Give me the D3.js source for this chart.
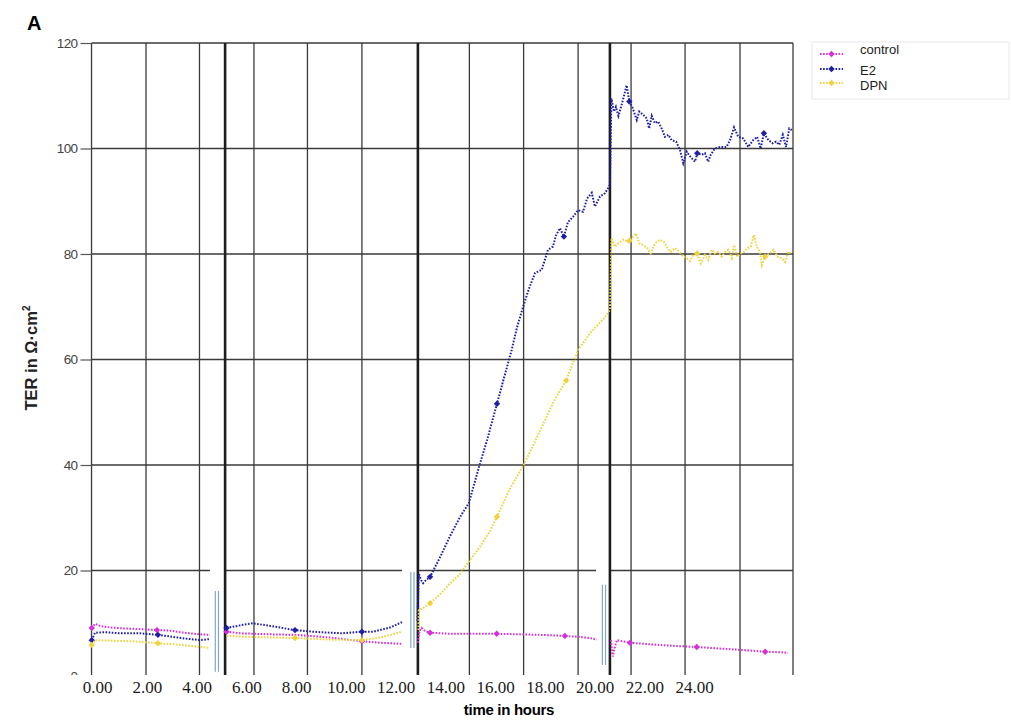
<!DOCTYPE html>
<html>
<head>
<meta charset="utf-8">
<script src="https://cdn.jsdelivr.net/npm/d3@7"></script>
<style>
  body { margin: 0; background: #fff; }
  svg { display: block; font-family: "Liberation Sans", Arial, sans-serif; }
</style>
</head>
<body>
<div id="chart"></div>
<script>
// ---- data (hours, TER in Ω·cm²) ----
const seriesNames = ["control", "E2", "DPN"];
const seriesColors = ["#d631d6", "#1e1ea8", "#f0d23c"];

const xTicks = [0, 2, 4, 6, 8, 10, 12, 14, 16, 18, 20, 22, 24];
const yTicks = [0, 20, 40, 60, 80, 100, 120];

// the figure is stitched from four recordings
const panelStart = [-0.22, 5.11, 12.90, 20.62];
const panelEnd = [4.54, 12.26, 20.06, 27.98];
const gridHours = [-0.22, 1.97, 4.12, 6.31, 8.46, 10.65, 14.97, 17.15, 19.34, 21.47, 23.64, 25.85, 27.98];
const seamHours = [5.15, 12.90, 20.62];
const breakHours = [4.82, 12.68, 20.38];
const breakTop = [16.1, 19.7, 17.3];
const breakBottom = [0.8, 5.3, 2.1];

const control = [
  [-0.21, 9.1], [-0.08, 9.9], [0.12, 9.5], [0.52, 9.2], [1.13, 9.0], [1.73, 8.9], [2.41, 8.7], [2.93, 8.6],
  [3.34, 8.3], [3.74, 8.1], [4.14, 7.9], [4.54, 7.8], null,
  [5.21, 8.4], [5.75, 8.1], [6.95, 7.9], [7.96, 7.8], [9.37, 7.3], [9.89, 7.0], [10.65, 6.6], [11.38, 6.3],
  [12.26, 6.1], null,
  [12.90, 6.3], [12.96, 8.5], [13.05, 9.1], [13.19, 8.5], [13.39, 8.2], [14.19, 8.0], [14.99, 8.0], [16.07, 8.0],
  [17.0, 7.9], [17.81, 7.8], [18.81, 7.6], [19.42, 7.4], [19.82, 7.2], [20.09, 6.9], null,
  [20.66, 6.8], [20.74, 3.7], [20.82, 5.5], [20.90, 6.8], [21.11, 6.6], [21.43, 6.3], [22.23, 6.0], [23.24, 5.7],
  [24.11, 5.5], [25.05, 5.2], [26.05, 4.9], [26.86, 4.6], [27.46, 4.5], [27.78, 4.4]
];
const controlMarkers = [[-0.21, 9.1], [2.41, 8.7], [5.21, 8.4], [10.65, 6.6], [13.39, 8.2], [16.07, 8.0],
  [18.81, 7.6], [21.43, 6.3], [24.11, 5.5], [26.86, 4.6]];

const e2 = [
  [-0.21, 6.8], [-0.08, 8.2], [0.32, 8.3], [0.92, 8.1], [1.73, 8.1], [2.45, 7.8], [2.93, 7.5], [3.54, 7.1],
  [4.14, 6.8], [4.54, 7.0], null,
  [5.21, 9.1], [5.75, 9.6], [6.27, 10.0], [6.95, 9.5], [7.96, 8.7], [8.68, 8.4], [9.37, 8.2], [9.89, 8.1],
  [10.65, 8.4], [11.10, 8.4], [11.78, 9.2], [12.26, 10.2], null,
  [12.88, 10.5], [12.94, 19.3], [13.05, 18.0], [13.11, 17.6], [13.23, 18.2], [13.39, 18.8], [13.79, 22.5],
  [14.19, 26.5], [14.59, 30.1], [14.95, 32.8], [15.38, 40.0], [15.68, 44.7], [16.08, 51.6], [16.36, 56.5],
  [16.67, 61.8], [16.88, 66.0], [17.13, 70.0], [17.37, 73.5], [17.61, 76.4], [17.88, 77.0], [18.13, 80.8],
  [18.33, 81.4], [18.45, 83.5], [18.61, 84.9], [18.77, 83.3], [18.93, 86.0], [19.14, 87.1], [19.34, 88.3],
  [19.54, 88.0], [19.70, 90.5], [19.89, 91.6], [20.02, 89.0], [20.22, 90.9], [20.42, 91.5], [20.62, 93.1],
  [20.68, 109.5], [20.78, 107.0], [20.86, 107.9], [20.96, 106.2], [21.05, 107.6], [21.16, 109.5], [21.29, 112.0],
  [21.40, 108.9], [21.54, 107.6], [21.70, 105.4], [21.80, 107.0], [21.96, 106.4], [22.10, 105.7], [22.20, 103.8],
  [22.30, 106.2], [22.43, 104.8], [22.56, 105.1], [22.70, 103.8], [22.83, 102.2], [22.97, 102.6], [23.10, 101.6],
  [23.28, 101.3], [23.44, 99.7], [23.57, 97.2], [23.71, 99.4], [23.84, 98.5], [24.04, 97.5], [24.13, 99.1],
  [24.31, 98.8], [24.44, 99.1], [24.57, 97.5], [24.67, 98.8], [24.84, 100.0], [25.05, 100.3], [25.31, 100.3],
  [25.45, 101.6], [25.61, 104.0], [25.78, 102.2], [25.98, 101.9], [26.18, 100.3], [26.38, 101.6], [26.54, 102.2],
  [26.68, 100.0], [26.81, 102.9], [26.99, 101.6], [27.16, 101.0], [27.30, 101.3], [27.43, 100.7], [27.57, 102.6],
  [27.70, 100.3], [27.83, 103.8], [27.93, 103.5]
];
const e2Markers = [[-0.21, 6.8], [2.45, 7.8], [5.21, 9.1], [7.96, 8.7], [10.65, 8.4], [13.39, 18.8], [16.08, 51.6],
  [18.77, 83.3], [21.40, 108.9], [24.13, 99.1], [26.81, 102.9]];

const dpn = [
  [-0.21, 5.9], [-0.08, 6.8], [0.52, 6.7], [1.33, 6.6], [1.93, 6.4], [2.45, 6.2], [3.14, 6.0], [3.74, 5.7],
  [4.54, 5.3], null,
  [5.21, 7.6], [6.27, 7.4], [7.96, 7.2], [9.37, 6.9], [10.65, 6.8], [11.38, 7.3], [12.26, 8.4], null,
  [12.92, 8.7], [12.94, 12.5], [13.15, 13.0], [13.39, 13.8], [13.79, 15.5], [14.19, 17.5], [14.59, 19.3],
  [14.99, 22.0], [15.40, 24.5], [15.80, 27.5], [16.08, 30.2], [16.60, 35.5], [17.15, 40.0], [17.61, 44.5],
  [18.01, 48.5], [18.41, 52.5], [18.86, 56.0], [19.34, 61.8], [19.82, 65.0], [20.22, 67.0], [20.42, 68.0],
  [20.62, 69.4],
  [20.68, 83.0], [20.82, 81.4], [20.96, 82.0], [21.16, 82.7], [21.36, 82.3], [21.50, 83.0], [21.67, 83.9],
  [21.80, 82.0], [21.96, 81.7], [22.12, 81.1], [22.26, 80.1], [22.43, 82.0], [22.63, 82.7], [22.79, 82.3],
  [22.93, 81.1], [23.06, 80.4], [23.24, 81.1], [23.41, 80.4], [23.57, 79.5], [23.71, 79.2], [23.84, 78.7],
  [23.97, 79.8], [24.13, 80.1], [24.27, 78.2], [24.44, 79.8], [24.57, 78.9], [24.71, 80.8], [24.84, 80.1],
  [24.98, 80.4], [25.11, 79.5], [25.25, 80.4], [25.38, 80.8], [25.52, 79.2], [25.61, 81.7], [25.74, 79.5],
  [25.88, 80.1], [26.01, 80.4], [26.14, 81.1], [26.28, 81.4], [26.41, 83.6], [26.52, 81.4], [26.65, 80.4],
  [26.72, 77.9], [26.86, 79.5], [27.03, 80.1], [27.19, 80.8], [27.35, 79.5], [27.53, 79.2], [27.66, 78.5],
  [27.79, 80.4], [27.93, 80.1]
];
const dpnMarkers = [[-0.21, 5.9], [2.45, 6.2], [7.96, 7.2], [10.65, 6.8], [13.39, 13.8], [16.08, 30.2],
  [18.86, 56.0], [21.40, 82.5], [24.13, 80.1], [26.86, 79.5]];

const seriesData = [control, e2, dpn];
const seriesMarkers = [controlMarkers, e2Markers, dpnMarkers];

// ---- layout ----
const width = 1011, height = 720;

const x = d3.scaleLinear().domain([0, 24]).range([97, 694]);
const y = d3.scaleLinear().domain([0, 120]).range([676, 43]);

const svg = d3.select("#chart").append("svg")
    .attr("width", width)
    .attr("height", height);

svg.append("rect").attr("width", width).attr("height", height).attr("fill", "#fff");

// Horizontal grid lines. The 20 line is broken at every seam of the stitched figure.
const grid = svg.append("g").attr("stroke", "#3a3a3a").attr("stroke-width", 1.3);

yTicks.filter(v => v >= 40).forEach(v => {
    grid.append("line")
        .attr("x1", x(panelStart[0])).attr("x2", x(panelEnd[3]))
        .attr("y1", y(v)).attr("y2", y(v));
});
panelStart.forEach((s, i) => {
    grid.append("line")
        .attr("x1", x(s)).attr("x2", x(panelEnd[i]))
        .attr("y1", y(20)).attr("y2", y(20));
});

// Vertical grid lines of each recording.
grid.selectAll(".v")
    .data(gridHours)
    .join("line")
    .attr("x1", d => x(d)).attr("x2", d => x(d))
    .attr("y1", y(120)).attr("y2", y(0));

// Seams between the recordings are drawn heavier.
svg.append("g")
    .attr("stroke", "#1e1e1e").attr("stroke-width", 2.6)
    .selectAll("line")
    .data(seamHours)
    .join("line")
    .attr("x1", d => x(d)).attr("x2", d => x(d))
    .attr("y1", y(120)).attr("y2", y(0));

// Axis-break marks (double light blue bars).
const breaks = svg.append("g").attr("stroke", "#7fa9c4").attr("stroke-width", 1.2);
breakHours.forEach((h, i) => {
    [-1.6, 1.6].forEach(off => {
        breaks.append("line")
            .attr("x1", x(h) + off).attr("x2", x(h) + off)
            .attr("y1", y(breakTop[i])).attr("y2", y(breakBottom[i]));
    });
});

// Y axis ticks and labels.
const yAxis = d3.axisLeft(y).tickValues(yTicks).tickSize(11).tickPadding(3).tickSizeOuter(0);
const yg = svg.append("g")
    .attr("transform", `translate(${x(panelStart[0])},0)`)
    .call(yAxis);
yg.select(".domain").remove();
yg.selectAll(".tick line").attr("stroke", "#555").attr("stroke-width", 1.2);
yg.selectAll(".tick text")
    .attr("fill", "#444")
    .style("font-size", "13.5px")
    .style("font-family", "'Liberation Sans', Arial, sans-serif")
    .style("letter-spacing", "-0.6px");

// Series: dotted lines with occasional markers.
const line = d3.line()
    .defined(d => d !== null)
    .x(d => x(d[0]))
    .y(d => y(d[1]));

const marker = d3.symbol().type(d3.symbolDiamond2).size(26);

seriesData.forEach((data, i) => {
    svg.append("path")
        .attr("d", line(data))
        .attr("fill", "none")
        .attr("stroke", seriesColors[i])
        .attr("stroke-width", 2)
        .attr("stroke-dasharray", "1.6 1.5");

    svg.append("g")
        .selectAll("path")
        .data(seriesMarkers[i])
        .join("path")
        .attr("d", marker)
        .attr("transform", d => `translate(${x(d[0])},${y(d[1])})`)
        .attr("fill", seriesColors[i]);
});

// The bottom strip of the scan hides most of the "0" label.
svg.append("rect")
    .attr("x", 0).attr("y", y(0) - 1)
    .attr("width", width).attr("height", height - y(0) + 1)
    .attr("fill", "#fff");

// X axis labels (serif, as in the pasted strip).
const xAxis = d3.axisBottom(x).tickValues(xTicks).tickSize(0).tickPadding(5).tickFormat(d3.format(".2f"));
const xg = svg.append("g")
    .attr("transform", `translate(0,${y(0)})`)
    .call(xAxis);
xg.select(".domain").remove();
xg.selectAll(".tick text")
    .attr("fill", "#1a1a1a")
    .style("font-size", "17px")
    .style("font-family", "'Liberation Serif', 'Times New Roman', serif");

// Axis titles and panel letter.
svg.append("text")
    .attr("x", 509).attr("y", 715)
    .attr("text-anchor", "middle")
    .style("font-size", "15px")
    .style("font-weight", "bold")
    .style("letter-spacing", "-0.3px")
    .text("time in hours");

const yTitle = svg.append("text")
    .attr("transform", "translate(37,358) rotate(-90)")
    .attr("text-anchor", "middle")
    .style("font-size", "16.5px")
    .style("font-weight", "bold")
    .attr("fill", "#222");
yTitle.append("tspan").text("TER in Ω·cm");
yTitle.append("tspan").attr("dy", -7).style("font-size", "10px").text("2");

svg.append("text")
    .attr("x", 27).attr("y", 30)
    .style("font-size", "20px")
    .style("font-weight", "bold")
    .text("A");

// Legend.
const legend = svg.append("g").attr("transform", "translate(812,42)");
legend.append("rect")
    .attr("width", 197).attr("height", 57)
    .attr("fill", "#fff")
    .attr("stroke", "#e8e8e8");

const rowText = [12, 33, 48];
const rowSym = [12, 27, 41];
seriesNames.forEach((name, i) => {
    legend.append("line")
        .attr("x1", 8).attr("x2", 31)
        .attr("y1", rowSym[i]).attr("y2", rowSym[i])
        .attr("stroke", seriesColors[i])
        .attr("stroke-width", 2)
        .attr("stroke-dasharray", "1.6 1.5");
    legend.append("path")
        .attr("d", marker)
        .attr("transform", `translate(19.5,${rowSym[i]})`)
        .attr("fill", seriesColors[i]);
    legend.append("text")
        .attr("x", 48).attr("y", rowText[i])
        .attr("fill", "#222")
        .style("font-size", "13px")
        .text(name);
});
</script>
</body>
</html>
